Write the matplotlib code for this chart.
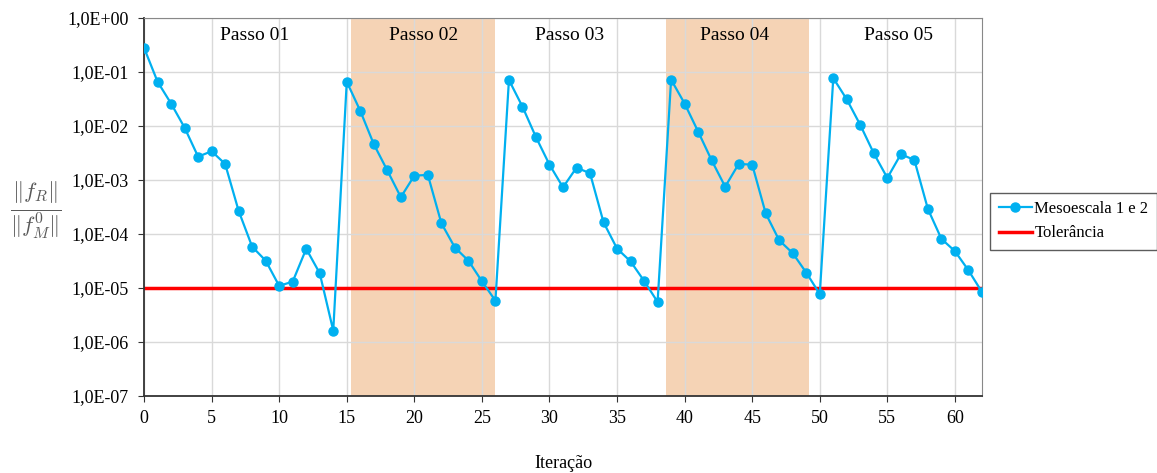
import numpy as np
import matplotlib
matplotlib.use("Agg")
import matplotlib.pyplot as plt
from matplotlib.ticker import FuncFormatter, FixedLocator, NullLocator

# residual norm per iteration (mesoscale 1 and 2)
iteracao = list(range(0, 63))
residuo = [
    0.28, 0.066, 0.026, 0.0093, 0.0027, 0.0034, 0.00198, 2.67e-4, 5.8e-5, 3.2e-5,
    1.09e-5, 1.31e-5, 5.3e-5, 1.87e-5, 1.62e-6,
    0.066, 0.019, 0.0046, 0.0015, 4.8e-4, 0.0012, 0.00124, 1.58e-4, 5.6e-5, 3.2e-5,
    1.33e-5, 5.8e-6,
    0.071, 0.0228, 0.0062, 0.00192, 7.3e-4, 0.00169, 0.00133, 1.64e-4, 5.35e-5, 3.1e-5,
    1.35e-5, 5.5e-6,
    0.072, 0.026, 0.00785, 0.00231, 7.5e-4, 0.00198, 0.00192, 2.4e-4, 7.6e-5, 4.4e-5,
    1.92e-5, 7.7e-6,
    0.077, 0.031, 0.0104, 0.0031, 0.00109, 0.003, 0.00234, 2.9e-4, 8.1e-5, 4.8e-5,
    2.12e-5, 8.4e-6,
]
tolerancia = 1e-5

passos = ["Passo 01", "Passo 02", "Passo 03", "Passo 04", "Passo 05"]
passo_centro = [8.2, 20.7, 31.5, 43.7, 55.8]
faixas = [(15.3, 26.0), (38.6, 49.2)]

plt.rcParams["font.family"] = ["Liberation Serif", "DejaVu Serif"]
plt.rcParams["mathtext.fontset"] = "cm"

fig = plt.figure(figsize=(11.57, 4.73), dpi=100)
ax = fig.add_axes([0.1245, 0.163, 0.7242, 0.799])

for a, b in faixas:
    ax.axvspan(a, b, color="#F5D3B5", lw=0, zorder=0)

ax.plot(iteracao, residuo, color="#00B0F0", lw=1.6, marker="o", ms=6.5,
        label="Mesoescala 1 e 2", zorder=3)
ax.plot([0, 62], [tolerancia, tolerancia], color="#FF0000", lw=2.5,
        label="Tolerância", zorder=2)

for nome, xc in zip(passos, passo_centro):
    ax.text(xc, 0.47, nome, ha="center", va="center", fontsize=14, zorder=4)

ax.set_yscale("log")
ax.set_ylim(1e-7, 1)
ax.set_xlim(0, 62)
ax.yaxis.set_major_locator(FixedLocator([10.0 ** k for k in range(-7, 1)]))
ax.yaxis.set_minor_locator(NullLocator())
ax.yaxis.set_major_formatter(FuncFormatter(
    lambda v, p: "1,0E" + ("+" if v >= 1 else "-") + "%02d" % abs(round(np.log10(v)))))
ax.set_xticks(range(0, 61, 5))

ax.grid(True, color="#D9D9D9", lw=1)
ax.set_axisbelow(True)
ax.tick_params(axis="both", direction="out", length=4, labelsize=13, color="#333333")
ax.tick_params(axis="y", pad=7)
ax.tick_params(axis="x", pad=6)
for s in ["top", "right"]:
    ax.spines[s].set_color("#888888")
for s in ["left", "bottom"]:
    ax.spines[s].set_color("#333333")
    ax.spines[s].set_linewidth(1.3)

ax.set_xlabel("Iteração", fontsize=13, labelpad=20)
fig.text(0.031, 0.556, r"$\frac{\|f_R\|}{\|f_M^0\|}$", fontsize=23, color="#595959",
         ha="center", va="center")

leg = ax.legend(loc="center left", bbox_to_anchor=(1.004, 0.462), fontsize=12,
                frameon=True, fancybox=False, edgecolor="#333333",
                handlelength=2.0, handletextpad=0.15, borderpad=0.5,
                labelspacing=0.5, borderaxespad=0.3)
leg.get_frame().set_linewidth(1.0)

fig.savefig("out.png", dpi=100)
